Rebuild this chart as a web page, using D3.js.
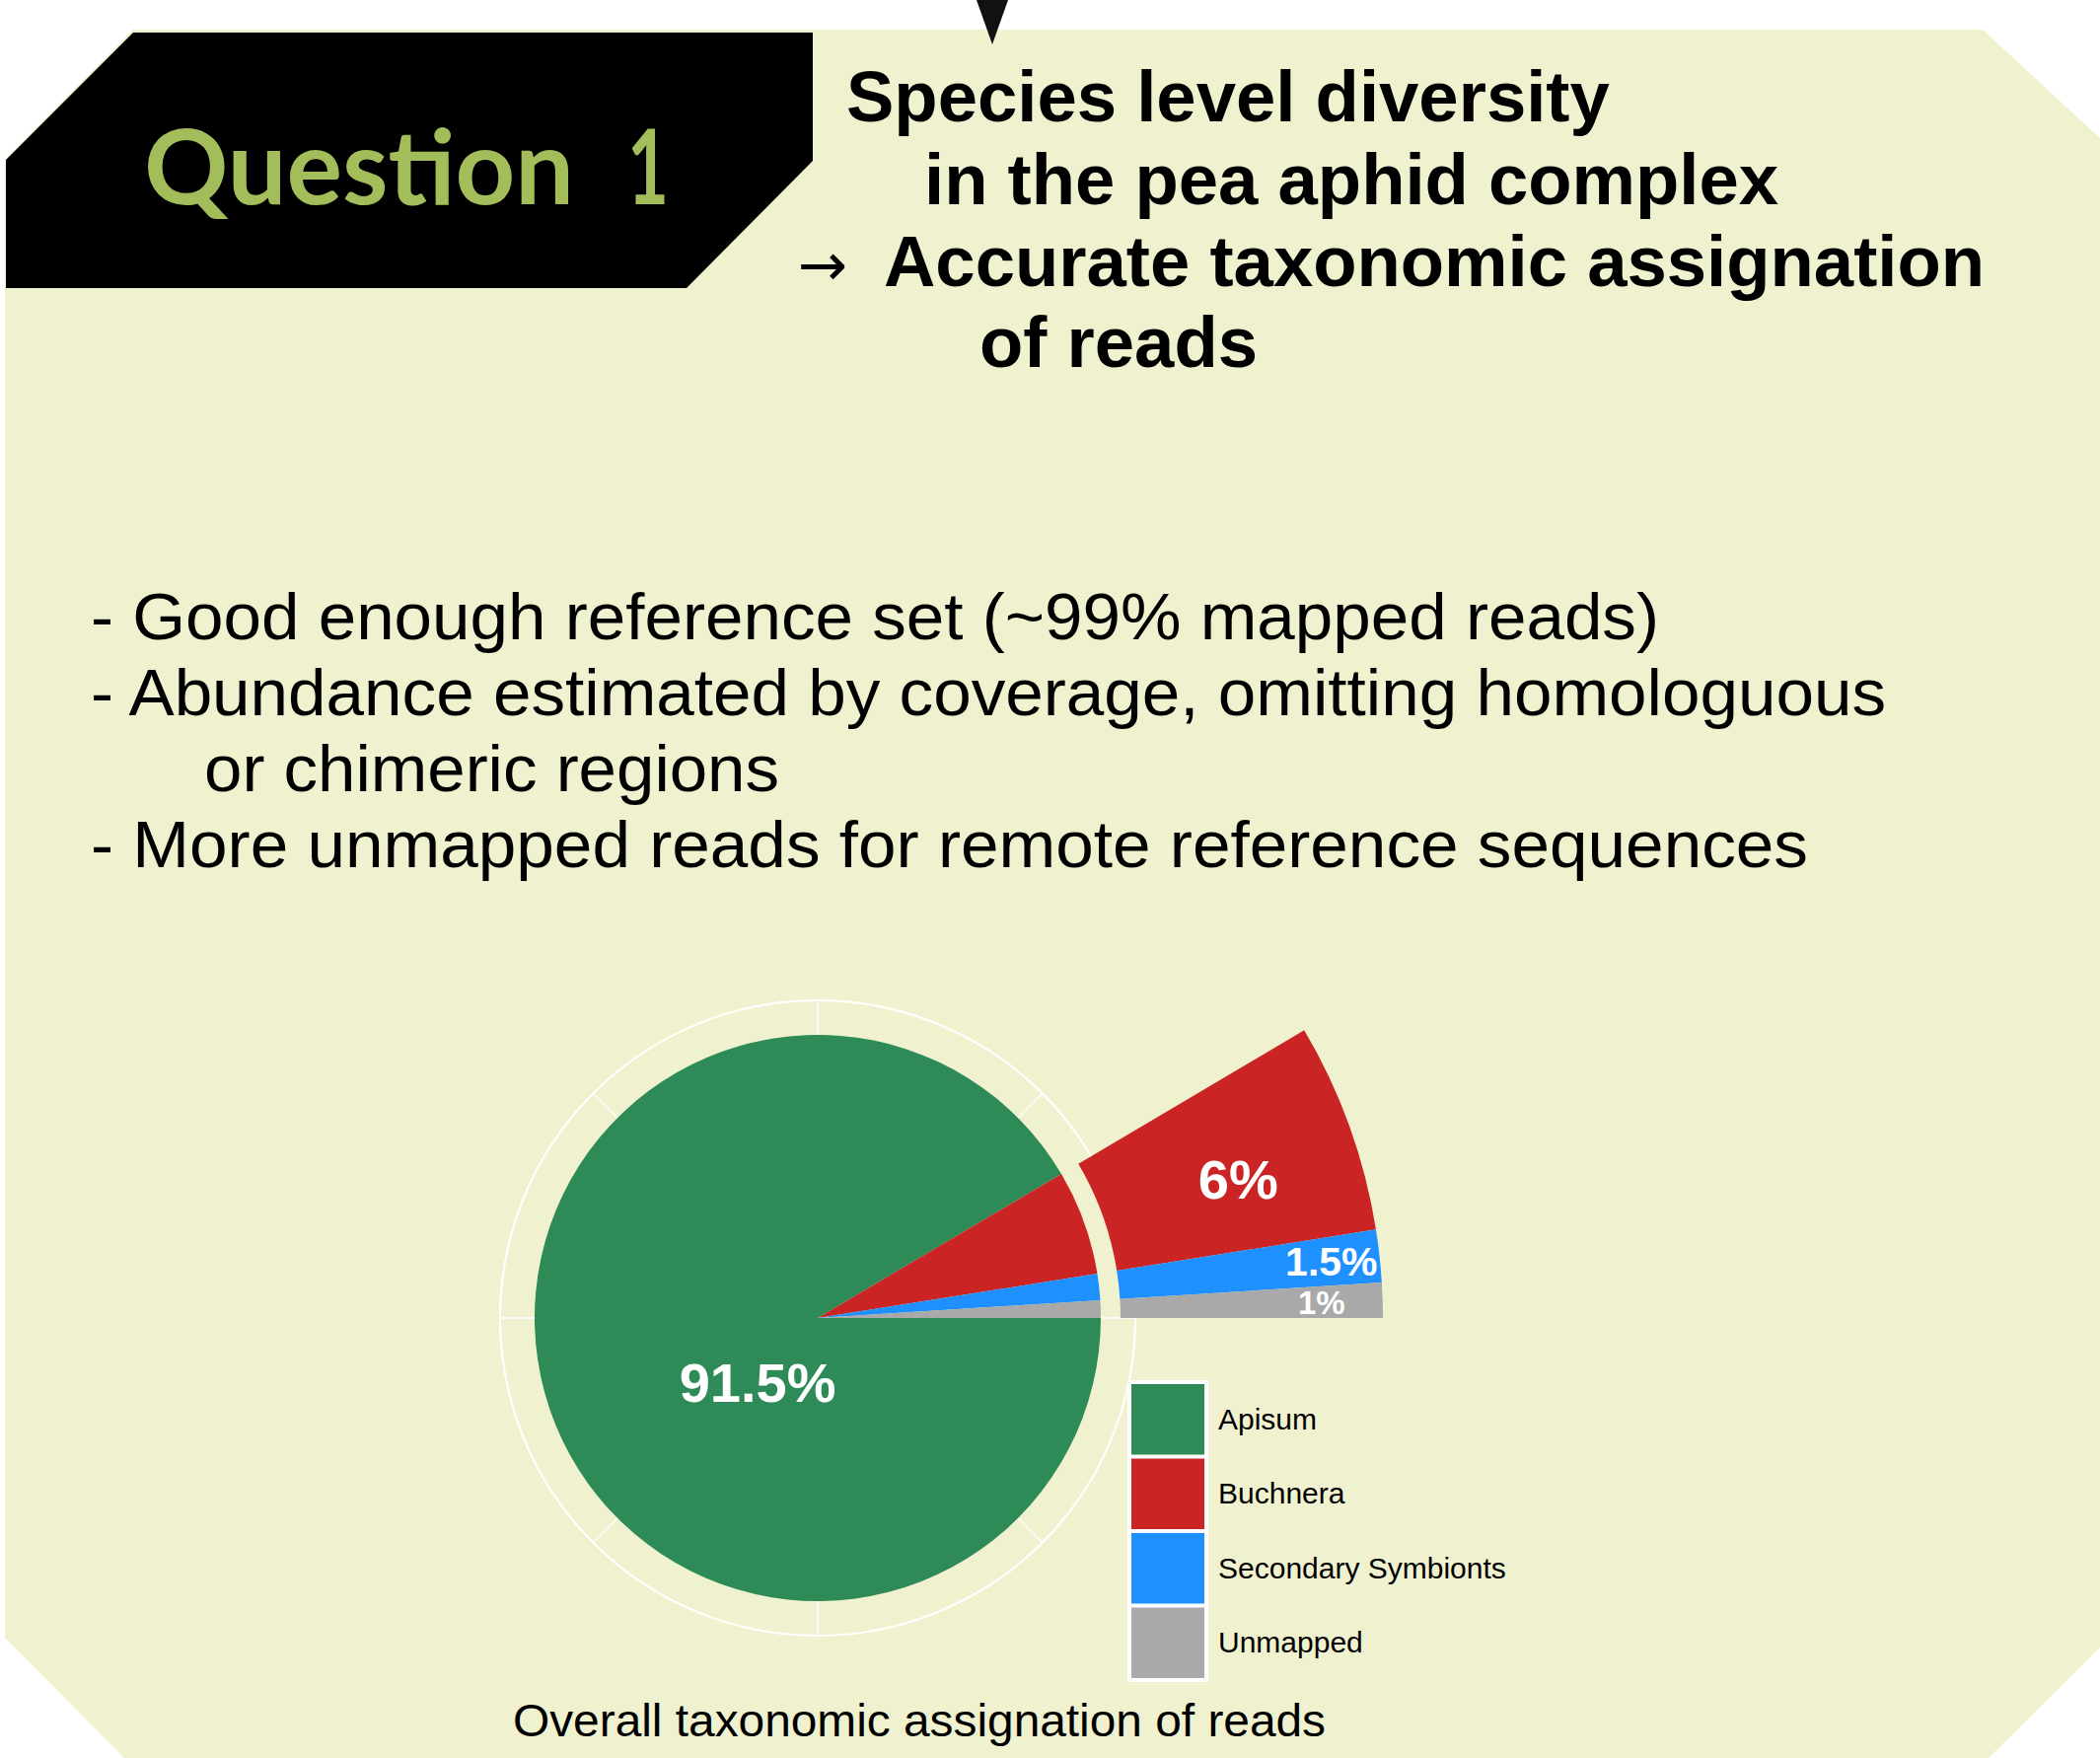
<!DOCTYPE html>
<html>
<head>
<meta charset="utf-8">
<script src="https://d3js.org/d3.v7.min.js"></script>
<style>
  html, body { margin: 0; padding: 0; background: #fff; }
  svg { display: block; }
  text { font-family: "Liberation Sans", Arial, sans-serif; }
</style>
</head>
<body>
<div id="chart"></div>
<script>
// ---- data ----
const categories = ['Apisum', 'Buchnera', 'Secondary Symbionts', 'Unmapped']
const shares = [91.5, 6, 1.5, 1]
const shareLabels = ['91.5%', '6%', '1.5%', '1%']
const zoomed = ['Buchnera', 'Secondary Symbionts', 'Unmapped']

const titleLines = [
    'Species level diversity',
    'in the pea aphid complex',
    'Accurate taxonomic assignation',
    'of reads'
]
const bulletLines = [
    '- Good enough reference set (~99% mapped reads)',
    '- Abundance estimated by coverage, omitting homologuous',
    'or chimeric regions',
    '- More unmapped reads for remote reference sequences'
]
const caption = 'Overall taxonomic assignation of reads'

const colors = ['#2e8b57', '#cb2424', '#1e90ff', '#a9a9a9']

// ---- layout ----
const width = 2129
const height = 1782
const bg = '#f0f2cf'

const svg = d3.select('#chart')
    .append('svg')
    .attr('width', width)
    .attr('height', height)

svg.append('rect')
    .attr('width', width)
    .attr('height', height)
    .attr('fill', '#fff')

// slide panel
svg.append('polygon')
    .attr('points', '135,30 2010,30 2129,140 2129,1670 2016,1782 126,1782 5,1660 5,162')
    .attr('fill', bg)

svg.append('polygon')
    .attr('points', '990,0 1022,0 1006,45')
    .attr('fill', '#111')

svg.append('polygon')
    .attr('points', '135,33 824,33 824,163 696,292 6,292 6,162')
    .attr('fill', '#000')

svg.append('text')
    .attr('x', 146)
    .attr('y', 207)
    .attr('fill', '#a4bd5b')
    .style('font-family', 'Lato, sans-serif')
    .style('font-weight', 700)
    .style('font-size', '106px')
    .attr('textLength', 436)
    .attr('lengthAdjust', 'spacingAndGlyphs')
    .text('Question')

svg.append('text')
    .attr('x', 636)
    .attr('y', 207)
    .attr('fill', '#a4bd5b')
    .style('font-family', 'Lato, sans-serif')
    .style('font-weight', 700)
    .style('font-size', '106px')
    .attr('textLength', 42)
    .attr('lengthAdjust', 'spacingAndGlyphs')
    .text('1')

// title block
const titleX = [858, 937, 896, 993]
const titleY = [123, 207, 290, 372]
svg.append('g')
    .selectAll('text')
    .data(titleLines)
    .enter()
    .append('text')
    .attr('x', (d, i) => titleX[i])
    .attr('y', (d, i) => titleY[i])
    .style('font-weight', 700)
    .style('font-size', '72.5px')
    .attr('fill', '#000')
    .text((d) => d)

svg.append('text')
    .attr('x', 809)
    .attr('y', 289)
    .style('font-family', '"DejaVu Sans", sans-serif')
    .style('font-size', '60px')
    .text('\u2192')

// bullets
const bulletX = [92, 92, 207, 92]
const bulletW = [1590, 1820, 583, 1741]
svg.append('g')
    .selectAll('text')
    .data(bulletLines)
    .enter()
    .append('text')
    .attr('x', (d, i) => bulletX[i])
    .attr('y', (d, i) => 648 + i * 77)
    .style('font-size', '66px')
    .attr('textLength', (d, i) => bulletW[i])
    .attr('lengthAdjust', 'spacingAndGlyphs')
    .attr('fill', '#000')
    .text((d) => d)

// ---- pie ----
const cx = 829
const cy = 1336
const pieR = 287
const gridR = 322
const outerIn = 307
const outerOut = 573

const color = d3.scaleOrdinal().domain(categories).range(colors)

const data = categories.map((c, i) => ({ name: c, value: shares[i], label: shareLabels[i] }))

const pie = d3.pie()
    .sort(null)
    .value((d) => d.value)
    .startAngle(Math.PI / 2)
    .endAngle(Math.PI / 2 + 2 * Math.PI)

const slices = pie(data)

const g = svg.append('g').attr('transform', `translate(${cx},${cy})`)

// polar grid
g.append('circle')
    .attr('r', gridR)
    .attr('fill', 'none')
    .attr('stroke', '#fff')
    .attr('stroke-width', 2)

g.selectAll('line.spoke')
    .data(d3.range(8))
    .enter()
    .append('line')
    .attr('class', 'spoke')
    .attr('x1', 0)
    .attr('y1', 0)
    .attr('x2', (d) => gridR * Math.sin(d * Math.PI / 4))
    .attr('y2', (d) => -gridR * Math.cos(d * Math.PI / 4))
    .attr('stroke', '#fff')
    .attr('stroke-width', 1.5)

const innerArc = d3.arc().innerRadius(0).outerRadius(pieR)
const outerArc = d3.arc().innerRadius(outerIn).outerRadius(outerOut)

g.selectAll('path.inner')
    .data(slices)
    .enter()
    .append('path')
    .attr('class', 'inner')
    .attr('d', innerArc)
    .attr('fill', (d) => color(d.data.name))

g.selectAll('path.outer')
    .data(slices.filter((d) => zoomed.includes(d.data.name)))
    .enter()
    .append('path')
    .attr('class', 'outer')
    .attr('d', outerArc)
    .attr('fill', (d) => color(d.data.name))

// label placement: radius from centre, optional angle (deg, clockwise from north), font size
const labelRadius = { 'Apisum': 89, 'Buchnera': 449, 'Secondary Symbionts': 524, 'Unmapped': 511 }
const labelAngleDeg = { 'Apisum': 223.2, 'Buchnera': 71.7 }
const labelSize = { 'Apisum': 56, 'Buchnera': 56, 'Secondary Symbionts': 41, 'Unmapped': 33 }
const labelAngle = (d) => labelAngleDeg[d.data.name] !== undefined
    ? labelAngleDeg[d.data.name] * Math.PI / 180
    : (d.startAngle + d.endAngle) / 2

g.selectAll('text.pct')
    .data(slices)
    .enter()
    .append('text')
    .attr('class', 'pct')
    .attr('x', (d) => labelRadius[d.data.name] * Math.sin(labelAngle(d)))
    .attr('y', (d) => -labelRadius[d.data.name] * Math.cos(labelAngle(d)) + labelSize[d.data.name] * 0.36)
    .attr('text-anchor', 'middle')
    .attr('fill', '#fff')
    .style('font-weight', 700)
    .style('font-size', (d) => labelSize[d.data.name] + 'px')
    .text((d) => d.data.label)

// ---- legend ----
const legendX = 1145
const legendY = 1401
const keyW = 78
const keyH = 75.5

const legend = svg.append('g').attr('transform', `translate(${legendX},${legendY})`)

legend.append('rect')
    .attr('x', -2)
    .attr('y', -2)
    .attr('width', keyW + 4)
    .attr('height', keyH * categories.length + 4)
    .attr('fill', '#fff')
    .attr('rx', 2)

const item = legend.selectAll('g.item')
    .data(categories)
    .enter()
    .append('g')
    .attr('class', 'item')
    .attr('transform', (d, i) => `translate(0,${i * keyH})`)

item.append('rect')
    .attr('x', 2)
    .attr('y', 2)
    .attr('width', keyW - 4)
    .attr('height', keyH - 4)
    .attr('fill', (d) => color(d))

item.append('text')
    .attr('x', keyW + 12)
    .attr('y', keyH / 2 + 10)
    .style('font-size', '30px')
    .attr('fill', '#000')
    .text((d) => d)

svg.append('text')
    .attr('x', 520)
    .attr('y', 1760)
    .style('font-size', '46px')
    .attr('textLength', 824)
    .attr('lengthAdjust', 'spacingAndGlyphs')
    .attr('fill', '#000')
    .text(caption)
</script>
</body>
</html>
